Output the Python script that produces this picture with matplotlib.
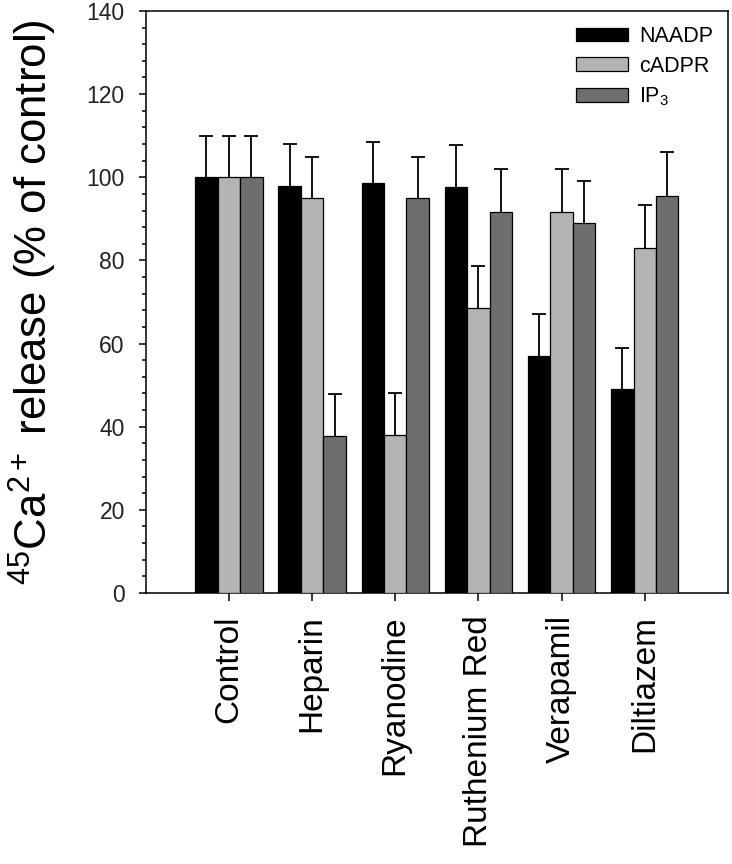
import numpy as np
import matplotlib
matplotlib.use('Agg')
import matplotlib.pyplot as plt
from matplotlib.ticker import MultipleLocator

plt.rcParams['font.family'] = ['Liberation Sans', 'DejaVu Sans']
plt.rcParams['mathtext.fontset'] = 'custom'
plt.rcParams['mathtext.rm'] = 'Liberation Sans'
plt.rcParams['mathtext.it'] = 'Liberation Sans:italic'

treatments = ['Control', 'Heparin', 'Ryanodine', 'Ruthenium Red', 'Verapamil', 'Diltiazem']
series = ['NAADP', 'cADPR', 'IP$_3$']
naadp = [100, 98, 98.5, 97.7, 57, 49]
naadp_err = [10, 10, 10, 10, 10, 10]
cadpr = [100, 95, 38, 68.6, 91.7, 83]
cadpr_err = [10, 9.8, 10, 10, 10.2, 10.3]
ip3 = [100, 37.8, 95, 91.7, 89, 95.6]
ip3_err = [10, 10, 9.8, 10.2, 10, 10.4]
colors = ['#000000', '#b4b4b4', '#6e6e6e']

fig = plt.figure(figsize=(7.32, 8.64), dpi=100)
ax = fig.add_axes([0.199, 0.3137, 0.7955, 0.6736])

x = np.arange(len(treatments))
w = 0.27
for i, (vals, errs) in enumerate([(naadp, naadp_err), (cadpr, cadpr_err), (ip3, ip3_err)]):
    pos = x + (i - 1) * w
    ax.bar(pos, vals, w, color=colors[i], edgecolor='black', linewidth=0.9,
           label=series[i], zorder=3)
    eb = ax.errorbar(pos, vals, yerr=[np.zeros(len(vals)), errs], fmt='none',
                     ecolor='black', elinewidth=1.3, capsize=4.7, capthick=1.3, zorder=2)
    eb[1][0].set_visible(False)  # only the upper cap

ax.set_xlim(-1, 6)
ax.set_ylim(0, 140)
ax.set_xticks(x)
ax.set_xticklabels(treatments, rotation=90, fontsize=24)
ax.yaxis.set_major_locator(MultipleLocator(20))
ax.yaxis.set_minor_locator(MultipleLocator(4))
ax.tick_params(axis='y', which='major', length=5, width=1.1, labelsize=16.5, pad=10, labelcolor='#222222')
ax.tick_params(axis='y', which='minor', length=3, width=1.1)
ax.tick_params(axis='x', length=6, width=1.1, pad=10)
for s in ax.spines.values():
    s.set_linewidth(1.1)

ax.set_ylabel(r'$^{45}$Ca$^{2+}$ release (% of control)', fontsize=31.5, labelpad=20)

ax.legend(loc='upper right', frameon=False, fontsize=15.5, handlelength=2.4,
          handleheight=0.6, labelspacing=0.4, borderaxespad=0.3, handletextpad=0.5)

fig.savefig('out.png', dpi=100)
